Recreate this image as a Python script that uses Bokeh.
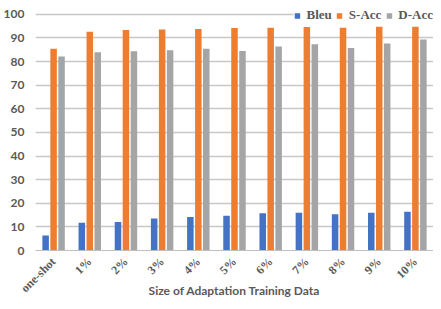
import math
from bokeh.plotting import figure
from bokeh.models import FactorRange, Legend, LegendItem, ColumnDataSource
from bokeh.transform import dodge
from bokeh.embed import file_html
from bokeh.resources import INLINE

categories = ["one-shot", "1%", "2%", "3%", "4%", "5%", "6%", "7%", "8%", "9%", "10%"]
bleu = [6.3, 11.8, 12.1, 13.5, 14.2, 14.7, 15.8, 16.0, 15.4, 16.0, 16.4]
s_acc = [85.4, 92.6, 93.4, 93.6, 93.8, 94.2, 94.3, 94.6, 94.3, 94.7, 94.7]
d_acc = [82.2, 84.0, 84.4, 84.8, 85.4, 84.5, 86.4, 87.3, 85.7, 87.7, 89.4]
y_ticks = [0, 10, 20, 30, 40, 50, 60, 70, 80, 90, 100]
x_title = "Size of Adaptation Training Data"

src = ColumnDataSource(dict(cat=categories, bleu=bleu, s_acc=s_acc, d_acc=d_acc))

p = figure(width=433, height=301, x_range=FactorRange(*categories), y_range=(0, 102.9),
           output_backend="svg", toolbar_location=None,
           min_border_left=26, min_border_right=0, min_border_top=7, min_border_bottom=0)
p.outline_line_color = None

r1 = p.vbar(x=dodge("cat", -0.22, range=p.x_range), top="bleu", width=0.18, source=src,
            color="#4472C4", line_color=None)
r2 = p.vbar(x=dodge("cat", 0.0, range=p.x_range), top="s_acc", width=0.18, source=src,
            color="#ED7D31", line_color=None)
r3 = p.vbar(x=dodge("cat", 0.22, range=p.x_range), top="d_acc", width=0.18, source=src,
            color="#A5A5A5", line_color=None)

p.yaxis.ticker = y_ticks
p.yaxis.axis_line_color = None
p.yaxis.major_tick_line_color = None
p.yaxis.minor_tick_line_color = None
p.yaxis.major_label_text_font = "Lato"
p.yaxis.major_label_text_font_style = "bold"
p.yaxis.major_label_text_font_size = "12px"
p.yaxis.major_label_text_color = "#595959"
p.yaxis.major_label_standoff = 5

p.xaxis.axis_line_color = "#bfbfbf"
p.xaxis.major_tick_line_color = None
p.xaxis.minor_tick_line_color = None
p.xaxis.major_tick_out = 0
p.xaxis.major_label_orientation = math.pi / 4
p.xaxis.major_label_text_font = "Liberation Serif"
p.xaxis.major_label_text_font_style = "bold"
p.xaxis.major_label_text_font_size = "12px"
p.xaxis.major_label_text_color = "#595959"
p.xaxis.major_label_standoff = 9
p.xaxis.axis_label = x_title
p.xaxis.axis_label_text_font = "Lato"
p.xaxis.axis_label_text_font_style = "bold"
p.xaxis.axis_label_text_font_size = "12px"
p.xaxis.axis_label_text_color = "#595959"
p.xaxis.axis_label_standoff = -20

p.xgrid.grid_line_color = None
p.ygrid.grid_line_color = "#c8c8c8"
p.ygrid.grid_line_width = 1.5

legend = Legend(items=[LegendItem(label="Bleu", renderers=[r1]),
                       LegendItem(label="S-Acc", renderers=[r2]),
                       LegendItem(label="D-Acc", renderers=[r3])],
                orientation="horizontal", location="top_right",
                glyph_width=7, glyph_height=7, spacing=4, label_standoff=6,
                label_height=12, padding=1, margin=0,
                label_text_font="Liberation Serif", label_text_font_style="bold",
                label_text_font_size="13px", label_text_color="#595959",
                border_line_color=None, background_fill_color="white", background_fill_alpha=1)
p.add_layout(legend, "center")

open("out.html", "w").write(file_html(p, INLINE))
